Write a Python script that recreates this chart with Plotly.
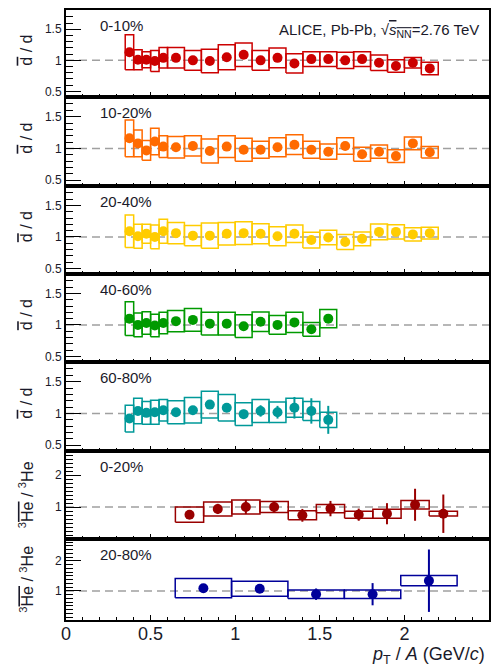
import plotly.graph_objects as go
from plotly.subplots import make_subplots

# ---------------- data ----------------
# anti-deuteron / deuteron: bin centres and widths in pT/A
d_x = [0.375, 0.425, 0.475, 0.525, 0.575, 0.65, 0.75, 0.85, 0.95, 1.05, 1.15,
       1.25, 1.35, 1.45, 1.55, 1.65, 1.75, 1.85, 1.95, 2.05, 2.15]
d_w = [0.05, 0.05, 0.05, 0.05, 0.05, 0.1, 0.1, 0.1, 0.1, 0.1, 0.1,
       0.1, 0.1, 0.1, 0.1, 0.1, 0.1, 0.1, 0.1, 0.1, 0.1]

d_0_10 = [1.13, 1.01, 1.01, 0.99, 1.04, 1.04, 1.00, 0.99, 1.05, 1.09, 1.00,
          1.04, 0.95, 1.02, 1.02, 1.00, 1.02, 0.96, 0.91, 0.96, 0.87]
d_0_10_sys = [0.28, 0.16, 0.13, 0.17, 0.165, 0.165, 0.16, 0.19, 0.20, 0.19, 0.16,
              0.16, 0.155, 0.12, 0.12, 0.13, 0.12, 0.125, 0.10, 0.085, 0.10]
d_0_10_stat = [0.03, 0.02, 0.02, 0.02, 0.02, 0.02, 0.02, 0.02, 0.02, 0.02, 0.02,
               0.03, 0.03, 0.03, 0.03, 0.03, 0.04, 0.04, 0.04, 0.05, 0.05]

d_10_20 = [1.16, 1.08, 0.97, 1.11, 1.03, 1.02, 1.04, 0.96, 1.03, 0.98, 0.98,
           1.02, 1.06, 0.98, 0.95, 1.04, 0.91, 0.95, 0.88, 1.08, 0.94]
d_10_20_sys = [0.29, 0.21, 0.155, 0.21, 0.17, 0.17, 0.16, 0.19, 0.17, 0.18, 0.135,
               0.15, 0.155, 0.135, 0.12, 0.13, 0.11, 0.105, 0.10, 0.10, 0.09]
d_10_20_stat = [0.03, 0.02, 0.02, 0.02, 0.02, 0.02, 0.02, 0.02, 0.02, 0.02, 0.02,
                0.03, 0.03, 0.03, 0.03, 0.04, 0.04, 0.04, 0.05, 0.05, 0.06]

d_20_40 = [1.09, 1.01, 1.05, 1.00, 1.09, 1.06, 1.02, 1.02, 1.05, 1.06, 1.05,
           1.01, 1.05, 0.95, 0.99, 0.92, 0.97, 1.08, 1.08, 1.04, 1.06]
d_20_40_sys = [0.26, 0.19, 0.15, 0.19, 0.19, 0.17, 0.16, 0.20, 0.18, 0.18, 0.16,
               0.15, 0.14, 0.125, 0.115, 0.12, 0.11, 0.125, 0.115, 0.105, 0.095]
d_20_40_stat = [0.03, 0.02, 0.02, 0.02, 0.02, 0.02, 0.02, 0.02, 0.02, 0.02, 0.02,
                0.03, 0.03, 0.03, 0.03, 0.04, 0.04, 0.04, 0.05, 0.05, 0.06]

d_40_60 = [1.10, 1.00, 1.03, 0.99, 1.03, 1.06, 1.08, 1.02, 1.02, 0.98, 1.05,
           1.00, 1.04, 0.93, 1.10]
d_40_60_sys = [0.27, 0.19, 0.18, 0.18, 0.17, 0.17, 0.18, 0.18, 0.18, 0.18, 0.155,
               0.15, 0.16, 0.11, 0.145]
d_40_60_stat = [0.03, 0.02, 0.02, 0.02, 0.02, 0.02, 0.03, 0.03, 0.03, 0.04, 0.04,
                0.05, 0.05, 0.06, 0.07]

d_60_80 = [0.92, 1.04, 1.01, 1.02, 1.05, 1.02, 1.05, 1.14, 1.09, 0.99, 1.04,
           1.02, 1.09, 1.04, 0.90]
d_60_80_sys = [0.21, 0.20, 0.18, 0.19, 0.17, 0.18, 0.20, 0.21, 0.21, 0.18, 0.18,
               0.16, 0.15, 0.15, 0.12]
d_60_80_stat = [0.04, 0.03, 0.03, 0.03, 0.03, 0.03, 0.04, 0.05, 0.06, 0.07, 0.09,
                0.10, 0.17, 0.20, 0.22]

# anti-3He / 3He
he_a_x = [0.73, 0.897, 1.063, 1.23, 1.397, 1.563, 1.73, 1.897, 2.063, 2.23]
he_a_w = [0.167, 0.167, 0.167, 0.167, 0.167, 0.167, 0.167, 0.167, 0.167, 0.167]
he_0_20 = [0.76, 0.94, 1.00, 1.00, 0.74, 0.95, 0.76, 0.79, 1.07, 0.79]
he_0_20_sys = [0.24, 0.22, 0.22, 0.17, 0.14, 0.13, 0.11, 0.14, 0.13, 0.075]
he_0_20_stat = [0.05, 0.16, 0.22, 0.18, 0.20, 0.24, 0.19, 0.33, 0.50, 0.60]

he_b_x = [0.812, 1.145, 1.478, 1.812, 2.145]
he_b_w = [0.333, 0.333, 0.333, 0.333, 0.333]
he_20_80 = [1.09, 1.07, 0.89, 0.89, 1.34]
he_20_80_sys = [0.32, 0.25, 0.14, 0.14, 0.17]
he_20_80_stat = [0.12, 0.12, 0.19, 0.37, 1.04]

labels = ["0-10%", "10-20%", "20-40%", "40-60%", "60-80%", "0-20%", "20-80%"]
colors = ["#cc0000", "#ff6a00", "#ffcc00", "#009a00", "#009999", "#990000", "#00009a"]

panels = [
    (d_x, d_w, d_0_10, d_0_10_sys, d_0_10_stat),
    (d_x, d_w, d_10_20, d_10_20_sys, d_10_20_stat),
    (d_x, d_w, d_20_40, d_20_40_sys, d_20_40_stat),
    (d_x[:15], d_w[:15], d_40_60, d_40_60_sys, d_40_60_stat),
    (d_x[:15], d_w[:15], d_60_80, d_60_80_sys, d_60_80_stat),
    (he_a_x, he_a_w, he_0_20, he_0_20_sys, he_0_20_stat),
    (he_b_x, he_b_w, he_20_80, he_20_80_sys, he_20_80_stat),
]

ref_value = 1.0
x_range = [0, 2.5]
d_range = [0.41, 1.81]
he_ranges = [[0.0, 2.75], [0.03, 2.73]]

# ---------------- layout geometry ----------------
W, H = 497, 671
ML, MR, MT, MB = 66, 6, 10, 51
panel_px = [10, 97, 186, 274, 362, 451, 539, 620]
plot_h = H - MT - MB
plot_w = W - ML - MR

FONT = "Liberation Sans, Arial, Helvetica, sans-serif"
TXT = "#1a1a2a"

fig = make_subplots(rows=7, cols=1, shared_xaxes=True, vertical_spacing=0)

for i, (xs, ws, ys, sys, stat) in enumerate(panels):
    row = i + 1
    col = colors[i]
    # reference dashed line
    fig.add_trace(go.Scatter(x=x_range, y=[ref_value, ref_value], mode="lines",
                             line=dict(color="#a0a0a0", width=1.5, dash="8px,5px"),
                             hoverinfo="skip", showlegend=False), row=row, col=1)
    # systematic boxes
    bx, by = [], []
    for x, w, y, s in zip(xs, ws, ys, sys):
        bx += [x - w / 2, x + w / 2, x + w / 2, x - w / 2, x - w / 2, None]
        by += [y - s, y - s, y + s, y + s, y - s, None]
    fig.add_trace(go.Scatter(x=bx, y=by, mode="lines",
                             line=dict(color=col, width=1.5),
                             hoverinfo="skip", showlegend=False), row=row, col=1)
    # points with statistical errors
    fig.add_trace(go.Scatter(x=xs, y=ys, mode="markers",
                             marker=dict(color=col, size=10, line=dict(width=0)),
                             error_y=dict(type="data", array=stat, width=0,
                                          thickness=2, color=col),
                             showlegend=False), row=row, col=1)

    top, bot = panel_px[i], panel_px[i + 1]
    dom = [(H - MB - bot) / plot_h, (H - MB - top) / plot_h]
    yname = "yaxis" if i == 0 else f"yaxis{i + 1}"
    xname = "xaxis" if i == 0 else f"xaxis{i + 1}"
    if i < 5:
        yopts = dict(range=d_range, tickmode="array", tickvals=[0.5, 1, 1.5],
                     ticktext=["0.5", "1", "1.5"],
                     minor=dict(ticks="inside", ticklen=7, tickmode="linear",
                                tick0=0, dtick=0.1, tickcolor="black", tickwidth=1,
                                showgrid=False))
    else:
        yopts = dict(range=he_ranges[i - 5], tickmode="array", tickvals=[1, 2],
                     ticktext=["1", "2"],
                     minor=dict(ticks="inside", ticklen=7, tickmode="linear",
                                tick0=0, dtick=0.125, tickcolor="black", tickwidth=1,
                                showgrid=False))
    fig.layout[yname].update(domain=dom, showline=True, mirror=True, linecolor="black",
                             linewidth=2, ticks="inside", ticklen=15, tickwidth=1.2,
                             tickcolor="black", showgrid=False, zeroline=False,
                             tickfont=dict(size=12, family=FONT, color=TXT),
                             **yopts)
    fig.layout[xname].update(range=x_range, showline=True, mirror=True, linecolor="black",
                             linewidth=2, ticks="inside", ticklen=5, tickwidth=1.2,
                             tickcolor="black", tick0=0, dtick=0.5, showgrid=False,
                             zeroline=False,
                             minor=dict(ticks="inside", ticklen=3, dtick=0.1, tick0=0,
                                        tickcolor="black", tickwidth=1, showgrid=False),
                             tickfont=dict(size=18, family=FONT, color=TXT),
                             ticklabelstandoff=-4,
                             showticklabels=(i == 6))

    # centrality label
    fig.add_annotation(xref="paper", yref="paper", x=(98 - ML) / plot_w,
                       y=(H - MB - (top + 15)) / plot_h, xanchor="left", yanchor="middle",
                       text=labels[i], showarrow=False,
                       font=dict(size=15, family=FONT, color=TXT))
    # y title
    if i < 5:
        ytitle = "<span style='text-decoration:overline'>d</span> / d"
        ycen = (H - MB - (top + bot) / 2 + 3) / plot_h
    else:
        ytitle = ("<sup>3</sup><span style='text-decoration:overline'>He</span>"
                  " / <sup>3</sup>He")
        ycen = (H - MB - (top + bot) / 2) / plot_h
    fig.add_annotation(xref="paper", yref="paper", x=(26 - ML) / plot_w, y=ycen,
                       xanchor="center", yanchor="middle", textangle=-90,
                       text=ytitle, showarrow=False,
                       font=dict(size=16, family=FONT, color=TXT))

# experiment label
fig.add_annotation(xref="paper", yref="paper", x=(483 - ML) / plot_w,
                   y=(H - MB - 30) / plot_h, xanchor="right", yanchor="middle",
                   text=("ALICE, Pb-Pb, √<span style='text-decoration:overline'>"
                         "<i>s</i><sub>NN</sub></span>=2.76 TeV"),
                   showarrow=False, font=dict(size=15, family=FONT, color=TXT))

# x-axis title
fig.add_annotation(xref="paper", yref="paper", x=(489 - ML) / plot_w,
                   y=(H - MB - 655) / plot_h, xanchor="right", yanchor="middle",
                   text="<i>p</i><sub>T</sub> / <i>A</i> (GeV/<i>c</i>)",
                   showarrow=False, font=dict(size=18, family=FONT, color=TXT))

fig.update_layout(width=W, height=H, margin=dict(l=ML, r=MR, t=MT, b=MB),
                  paper_bgcolor="white", plot_bgcolor="white", showlegend=False)

fig.write_html("out.html")
